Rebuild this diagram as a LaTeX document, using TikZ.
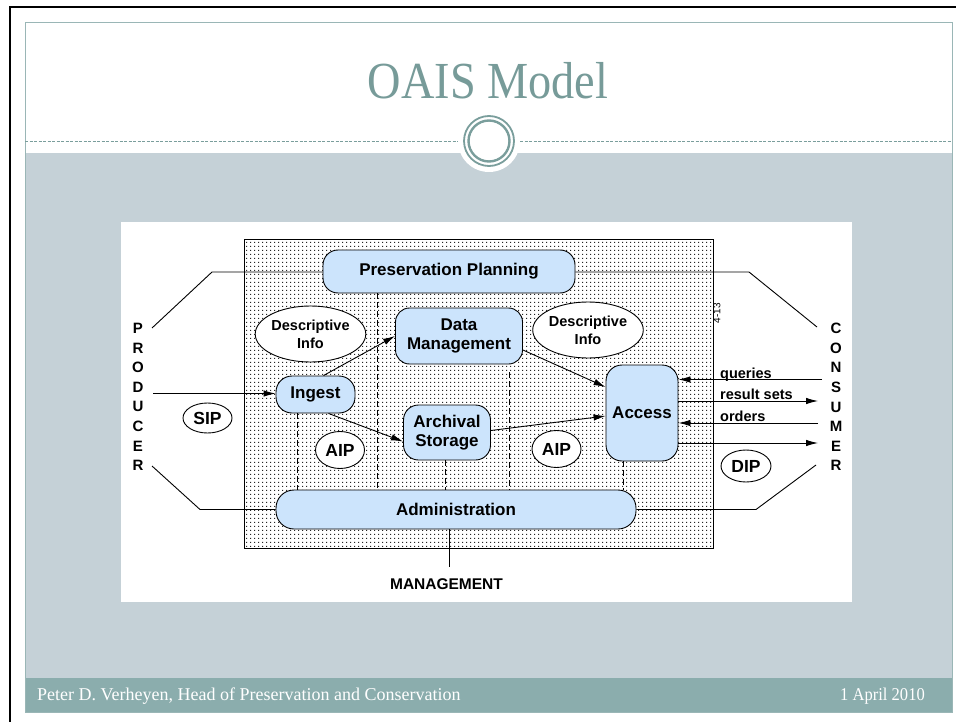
\documentclass[tikz,border=0pt]{standalone}
\usepackage{fontspec}
\setmainfont{Liberation Serif}
\newfontfamily\arialfont{Liberation Sans}
\usetikzlibrary{arrows.meta,shapes.geometric,patterns.meta}

\definecolor{bandgrey}{HTML}{C5D1D7}
\definecolor{footteal}{HTML}{8BADAD}
\definecolor{frameteal}{HTML}{9AB6B6}
\definecolor{titleteal}{HTML}{779B99}
\definecolor{ringteal}{HTML}{7A9E9C}
\definecolor{procblue}{HTML}{CCE4FC}

% small square dots used as the background of the archive box
\tikzdeclarepattern{
  name=oaisdots,
  type=uncolored,
  bottom left={(0pt,0pt)},
  top right={(4.4bp,4.4bp)},
  tile size={(4.4bp,4.4bp)},
  code={\pgfpathrectangle{\pgfpointorigin}{\pgfpoint{1.2bp}{1.2bp}}\pgfusepath{fill}}
}

\tikzset{
  proc/.style={draw=black, line width=0.9bp, fill=procblue, inner sep=0pt,
    align=center, font=\arialfont\bfseries\fontsize{17bp}{18.5bp}\selectfont},
  info/.style={ellipse, draw=black, line width=0.9bp, fill=white, inner sep=0pt,
    align=center, font=\arialfont\bfseries\fontsize{14.5bp}{18bp}\selectfont},
  pkg/.style={ellipse, draw=black, line width=0.9bp, fill=white, inner sep=0pt,
    font=\arialfont\bfseries\fontsize{17.5bp}{18bp}\selectfont},
  side/.style={align=center, inner sep=0pt,
    font=\arialfont\bfseries\fontsize{15bp}{19.6bp}\selectfont},
  flowlabel/.style={anchor=base west, inner sep=0pt,
    font=\arialfont\bfseries\fontsize{14.5bp}{16bp}\selectfont},
  arr/.style={-{Latex[length=12bp,width=6.5bp]}, line width=0.9bp},
  link/.style={line width=0.9bp},
  sep/.style={dash pattern=on 6bp off 3bp, line width=0.8bp},
}

\begin{document}
\begin{tikzpicture}[x=1bp,y=-1bp]
\useasboundingbox (0,0) rectangle (956,722);
\fill[white] (0,0) rectangle (956,722);

% outer black frame
\draw[line width=2.6bp] (10,722) -- (10,7) -- (956,7);

% slide areas
\fill[white] (25,23) rectangle (952,153);
\fill[bandgrey] (25,153) rectangle (952,678);
\fill[footteal] (25,678) rectangle (952,712);
\draw[frameteal, line width=1bp] (25,23) rectangle (952,712);

% title divider with ring ornament
\draw[ringteal, line width=0.8bp, dash pattern=on 3bp off 1.5bp] (25,141.5) -- (458,141.5);
\draw[ringteal, line width=0.8bp, dash pattern=on 3bp off 1.5bp] (520,141.5) -- (952,141.5);
\fill[white] (489,141) circle (31);
\draw[ringteal, line width=1.8bp] (489,141) circle (25);
\draw[ringteal, line width=2.4bp] (489,141) circle (20.5);

\node[text=titleteal, font=\fontsize{52bp}{56bp}\selectfont] (title) at (488,81) {\scalebox{0.89}[1]{OAIS Model}};

% diagram panel
\fill[white] (121,222) rectangle (852,602);
\fill[pattern=oaisdots, pattern color=black!85] (244,239) rectangle (713,548);
\draw[line width=1bp] (244,239) rectangle (713,548);
\node[rotate=90, inner sep=0pt, font=\arialfont\fontsize{10bp}{10bp}\selectfont] (pageno) at (717,313) {4-13};

% functional entities
\node[proc, rounded corners=15bp, minimum width=252bp, minimum height=43bp] (pp) at (449,271.5) {Preservation Planning};
\node[proc, rounded corners=14bp, minimum width=127bp, minimum height=56bp] (dm) at (459,336) {Data\\Management};
\node[proc, rounded corners=16bp, minimum width=79bp, minimum height=37bp] (ing) at (315.5,394.5) {Ingest};
\node[proc, rounded corners=15bp, minimum width=87bp, minimum height=55bp] (as) at (447,432.5) {Archival\\Storage};
\node[proc, rounded corners=16bp, minimum width=72bp, minimum height=96bp] (acc) at (642,413) {Access};
\node[proc, rounded corners=18bp, minimum width=360bp, minimum height=39bp] (adm) at (456,509.5) {Administration};

% information packages
\node[info, minimum width=100bp, minimum height=56bp] (dil) at (310.5,334) {Descriptive\\Info};
\node[info, minimum width=100bp, minimum height=56bp] (dir) at (588,330) {Descriptive\\Info};
\node[pkg, minimum width=49bp, minimum height=37bp] (aipl) at (340,450) {AIP};
\node[pkg, minimum width=49bp, minimum height=37bp] (aipr) at (556.5,449) {AIP};
\node[pkg, minimum width=49bp, minimum height=30bp] (sip) at (207.5,418) {SIP};
\node[pkg, minimum width=50bp, minimum height=32bp] (dip) at (746,466) {DIP};

% environment
\node[side] (prod) at (138,397) {P\\R\\O\\D\\U\\C\\E\\R};
\node[side] (cons) at (836,397) {C\\O\\N\\S\\U\\M\\E\\R};
\node[inner sep=0pt, font=\arialfont\bfseries\fontsize{15.5bp}{16bp}\selectfont] (mgmt) at (446.5,584) {MANAGEMENT};

% dashed separators between the entities
\coordinate (xa) at (297,0);
\coordinate (xb) at (377,0);
\coordinate (xc) at (445,0);
\coordinate (xd) at (509,372);
\coordinate (xe) at (623,0);
\draw[sep] (ing.south -| xa) -- (adm.north -| xa);
\draw[sep] (pp.south -| xb) -- (adm.north -| xb);
\draw[sep] (as.south -| xc) -- (adm.north -| xc);
\draw[sep] (xd) -- (adm.north -| xd);
\draw[sep] (acc.south -| xe) -- (adm.north -| xe);

% producer and consumer links
\coordinate (p1) at (212,272);
\coordinate (p2) at (152,328);
\coordinate (p3) at (200,509.5);
\coordinate (p4) at (152,466);
\coordinate (c1) at (749,272);
\coordinate (c2) at (817,327);
\coordinate (c3) at (756,509.5);
\coordinate (c4) at (816,465);
\draw[link] (pp.west |- p1) -- (p1) -- (p2);
\draw[link] (pp.east |- c1) -- (c1) -- (c2);
\draw[link] (adm.west |- p3) -- (p3) -- (p4);
\draw[link] (adm.east |- c3) -- (c3) -- (c4);
\coordinate (mtop) at (449,567);
\draw[link] (adm.south -| mtop) -- (mtop);

% flows
\coordinate (pin) at (153,393.5);
\draw[arr] (pin) -- (pin -| ing.west);
\draw[arr] ([xshift=8bp]ing.north) -- (dm.west);
\draw[arr] ([xshift=13bp]ing.south) -- ([yshift=-9bp]as.west);
\draw[arr] ([yshift=-14bp]dm.east) -- ([yshift=26bp]acc.west);
\draw[arr] ([yshift=2bp]as.east) -- ([yshift=-3bp]acc.west);

\coordinate (cq) at (822,379.5);
\coordinate (cr) at (818,401);
\coordinate (co) at (818,423);
\coordinate (cd) at (818,443);
\draw[arr] (cq) -- (cq -| acc.east);
\draw[arr] (cr -| acc.east) -- (cr);
\draw[arr] (co) -- (co -| acc.east);
\draw[arr] (cd -| acc.east) -- (cd);
\node[flowlabel] (lq) at (720,378) {queries};
\node[flowlabel] (lr) at (720,399) {result sets};
\node[flowlabel] (lo) at (720,421) {orders};

% footer
\node[anchor=base west, inner sep=0pt, text=white, font=\fontsize{18bp}{20bp}\selectfont] (author) at (37,700) {Peter D. Verheyen, Head of Preservation and Conservation};
\node[anchor=base east, inner sep=0pt, text=white, font=\fontsize{18bp}{20bp}\selectfont] (date) at (925,700) {\scalebox{0.92}[1]{1 April 2010}};
\end{tikzpicture}
\end{document}
